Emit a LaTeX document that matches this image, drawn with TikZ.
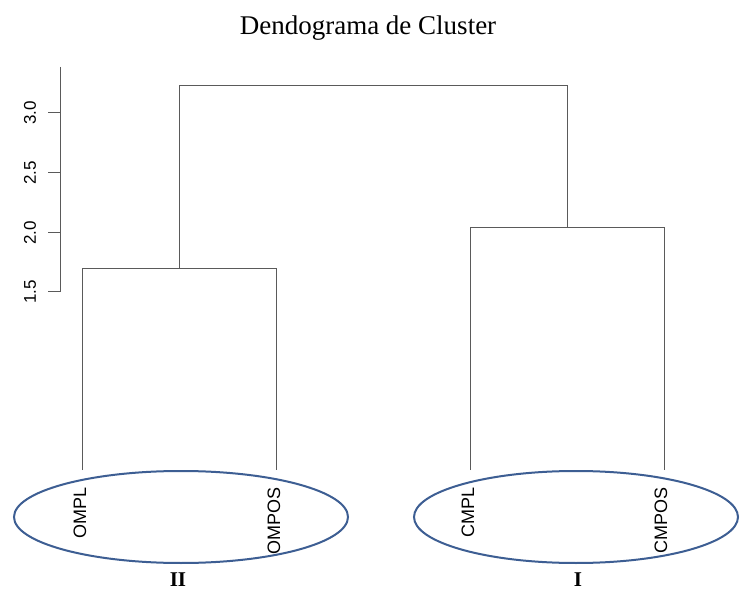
\documentclass[tikz,border=0pt]{standalone}
\usepackage{fontspec}
\setmainfont{Liberation Serif}
\newfontfamily\axisfont{Liberation Sans}
\definecolor{dendro}{HTML}{5A5A5A}
\definecolor{ellblue}{HTML}{3D5E93}
\tikzset{
  branch/.style={draw=dendro, line width=1pt},
  axisline/.style={draw=dendro, line width=1pt},
  leaflabel/.style={rotate=90, anchor=east, inner sep=0pt, font=\axisfont\fontsize{18}{18}\selectfont},
  ticklabel/.style={rotate=90, anchor=center, inner sep=0pt, font=\axisfont\fontsize{17}{17}\selectfont},
  groupring/.style={draw=ellblue, line width=2pt},
  grouplabel/.style={font=\bfseries\fontsize{21}{21}\selectfont, inner sep=0pt}
}
\begin{document}
\begin{tikzpicture}[x=1pt,y=-1pt]
\useasboundingbox[fill=white] (0,0) rectangle (740,591);
% title
\node[font=\fontsize{27}{27}\selectfont, inner sep=0pt, anchor=base] (title) at (368,35) {Dendograma de Cluster};
% axis
\coordinate (axtop) at (60,67);
\coordinate (axbot) at (60,292);
\draw[axisline] (axtop) -- (axbot);
\foreach \v/\y in {1.5/292,2.0/233,2.5/173,3.0/113}{
  \draw[axisline] (48,\y) -- (60,\y);
  \node[ticklabel] at (30,\y) {\v};
}
% leaves
\coordinate (omplTop) at (82,269);
\coordinate (omplEnd) at (82,470);
\coordinate (omposTop) at (276,269);
\coordinate (omposEnd) at (276,470);
\coordinate (cmplTop) at (470,228);
\coordinate (cmplEnd) at (470,470);
\coordinate (cmposTop) at (664,228);
\coordinate (cmposEnd) at (664,470);
\coordinate (leftMid) at (179,269);
\coordinate (rightMid) at (567,228);
\coordinate (leftRoot) at (179,86);
\coordinate (rightRoot) at (567,86);
% branches
\draw[branch] (omplEnd) -- (omplTop) -- (omposTop) -- (omposEnd);
\draw[branch] (cmplEnd) -- (cmplTop) -- (cmposTop) -- (cmposEnd);
\draw[branch] (leftMid) -- (leftRoot) -- (rightRoot) -- (rightMid);
% leaf labels
\node[leaflabel] (ompl) at (80,487) {OMPL};
\node[leaflabel] (ompos) at (274,487) {OMPOS};
\node[leaflabel] (cmpl) at (468,487) {CMPL};
\node[leaflabel] (cmpos) at (661,487) {CMPOS};
% ellipses
\draw[groupring] (181,517) ellipse [x radius=167, y radius=46];
\draw[groupring] (576,517) ellipse [x radius=162, y radius=46];
% group labels
\node[grouplabel] (gII) at (178,580) {II};
\node[grouplabel] (gI) at (578,580) {I};
\end{tikzpicture}
\end{document}
